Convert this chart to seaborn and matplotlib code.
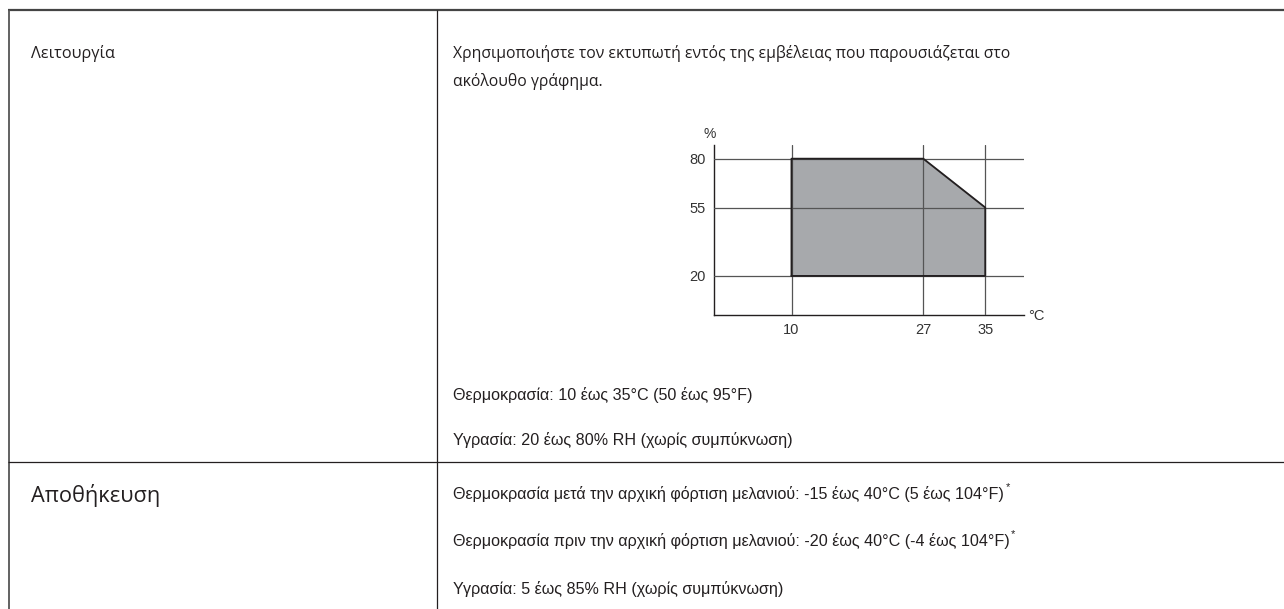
import matplotlib
matplotlib.use("Agg")
import matplotlib.pyplot as plt
import seaborn as sns

# operating range polygon (temperature in C, humidity in %)
temp_c = [10, 10, 27, 35, 35, 10]
humidity = [20, 80, 80, 55, 20, 20]

x_ticks = [10, 27, 35]
y_ticks = [20, 55, 80]
x_minor = [20, 30]
y_minor = [10, 30, 40, 50, 60, 70]

row_labels = ["Λειτουργία", "Αποθήκευση"]
intro_lines = ["Χρησιμοποιήστε τον εκτυπωτή εντός της εμβέλειας που παρουσιάζεται στο",
               "ακόλουθο γράφημα."]
operating_lines = ["Θερμοκρασία: 10 έως 35°C (50 έως 95°F)",
                   "Υγρασία: 20 έως 80% RH (χωρίς συμπύκνωση)"]
storage_lines = ["Θερμοκρασία μετά την αρχική φόρτιση μελανιού: -15 έως 40°C (5 έως 104°F)",
                 "Θερμοκρασία πριν την αρχική φόρτιση μελανιού: -20 έως 40°C (-4 έως 104°F)",
                 "Υγρασία: 5 έως 85% RH (χωρίς συμπύκνωση)"]
storage_marks = [True, True, False]

sns.set_style("white")
plt.rcParams["font.family"] = ["Liberation Sans Narrow", "Liberation Sans", "DejaVu Sans"]
wide_font = ["Open Sans", "DejaVu Sans"]

ink = "#231f20"
fig = plt.figure(figsize=(12.84, 6.09), dpi=100)
renderer = fig.canvas.get_renderer()


def fit_width(t, target):
    # scale the font so the text spans roughly the same width as in the manual
    w = t.get_window_extent(renderer).width
    t.set_fontsize(t.get_fontsize() * target / w)
    return t.get_fontsize()


# table frame, drawn in pixel coordinates
bg = fig.add_axes([0, 0, 1, 1])
bg.set_xlim(0, 1284)
bg.set_ylim(609, 0)
bg.axis("off")
bg.plot([8, 1284], [10, 10], color="#444444", lw=1.6, solid_capstyle="butt")
bg.plot([8.8, 8.8], [10, 609], color="#555555", lw=1.3, solid_capstyle="butt")
bg.plot([437, 437], [10, 609], color=ink, lw=0.9, solid_capstyle="butt")
bg.plot([8, 1284], [462, 462], color=ink, lw=0.9, solid_capstyle="butt")

# left column
t = bg.text(31, 58, row_labels[0], fontsize=12, color=ink, va="baseline", family=wide_font)
fit_width(t, 84)
t = bg.text(31, 502, row_labels[1], fontsize=15, color=ink, va="baseline", family=wide_font)
fit_width(t, 129)

# right column
tx = 453
t = bg.text(tx, 58, intro_lines[0], fontsize=11, color=ink, va="baseline", family=wide_font)
size = fit_width(t, 559)
bg.text(tx, 86, intro_lines[1], fontsize=size, color=ink, va="baseline", family=wide_font)

for line, y in zip(operating_lines, [400, 445]):
    bg.text(tx, y, line, fontsize=11.6, color=ink, va="baseline")

for line, y, mark in zip(storage_lines, [499, 546, 594], storage_marks):
    t = bg.text(tx, y, line, fontsize=11.6, color=ink, va="baseline")
    if mark:
        bb = t.get_window_extent(renderer)
        bg.text(bb.x1 + 1.5, y - 9, "*", fontsize=8, color=ink, va="baseline")

# the small operating range chart
ax = fig.add_axes([714 / 1284, (609 - 315) / 609, 310 / 1284, 170 / 609])
ax.fill(temp_c, humidity, color="#a7a9ac", zorder=2)
sns.lineplot(x=temp_c, y=humidity, sort=False, estimator=None, color=ink,
             lw=1.3, ax=ax, zorder=4)
ax.set_xlim(0, 40)
ax.set_ylim(0, 87)
ax.set_xticks(x_ticks)
ax.set_yticks(y_ticks)
ax.set_xticks(x_minor, minor=True)
ax.set_yticks(y_minor, minor=True)
ax.grid(True, which="major", color="#555555", lw=0.9, zorder=3)
ax.set_axisbelow(False)
ax.tick_params(which="major", direction="out", length=3, width=0.9, color=ink,
               labelsize=10.5, labelcolor="#333333", pad=3)
ax.tick_params(which="minor", direction="out", length=2.5, width=0.7, color=ink)
for side in ["top", "right"]:
    ax.spines[side].set_visible(False)
for side in ["left", "bottom"]:
    ax.spines[side].set_color(ink)
    ax.spines[side].set_linewidth(1.0)
ax.set_facecolor("none")
ax.text(-0.5, 92.5, "%", fontsize=10, color="#333333", ha="center", va="center",
        clip_on=False)
ax.text(41.6, -0.5, "°C", fontsize=10.5, color="#333333", ha="center", va="center",
        clip_on=False)

fig.savefig("out.png", dpi=100)
